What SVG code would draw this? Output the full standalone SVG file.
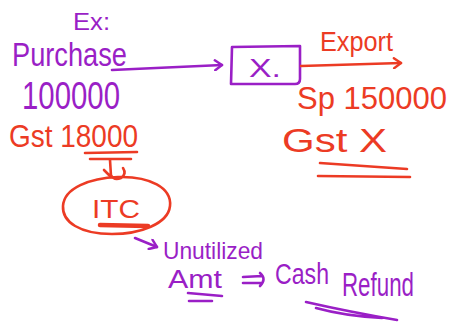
<svg xmlns="http://www.w3.org/2000/svg" width="453" height="323" viewBox="0 0 453 323">
<style>
.p{fill:#9a1fc6}
.r{fill:#ec3b24}
text{font-family:"Liberation Sans",Arial,sans-serif}
.ps{stroke:#9a1fc6;fill:none;stroke-width:2.6;stroke-linecap:round;stroke-linejoin:round}
.rs{stroke:#ec3b24;fill:none;stroke-width:2.6;stroke-linecap:round;stroke-linejoin:round}
</style>
<defs>
<marker id="ap" markerWidth="12" markerHeight="12" refX="9" refY="6" orient="auto" markerUnits="userSpaceOnUse"><path d="M2,1 L9,6 L2,11" fill="none" stroke="#9a1fc6" stroke-width="2.4" stroke-linecap="round" stroke-linejoin="round"/></marker>
<marker id="ar" markerWidth="12" markerHeight="12" refX="9" refY="6" orient="auto" markerUnits="userSpaceOnUse"><path d="M2,1 L9,6 L2,11" fill="none" stroke="#ec3b24" stroke-width="2.4" stroke-linecap="round" stroke-linejoin="round"/></marker>
</defs>
<rect width="453" height="323" fill="#fff"/>
<g id="purchase">
<text class="p" x="73" y="30" font-size="24" textLength="37" lengthAdjust="spacingAndGlyphs">Ex:</text>
<text class="p" x="12" y="66" font-size="34" textLength="115" lengthAdjust="spacingAndGlyphs">Purchase</text>
<text class="p" x="22" y="109" font-size="38" textLength="98" lengthAdjust="spacingAndGlyphs">100000</text>
<text class="r" x="9" y="147" font-size="32" textLength="129" lengthAdjust="spacingAndGlyphs">Gst 18000</text>
<path class="rs" d="M85,153 L137,152 M90,159 L131,159"/>
</g>
<g id="box-x">
<path class="ps" d="M232,47 L300,46 L300,79 Q300,84 295,84 L231,84 Z"/>
<text class="p" x="249" y="77" font-size="26" textLength="32" lengthAdjust="spacingAndGlyphs">X.</text>
</g>
<g id="export">
<text class="r" x="320" y="51" font-size="27" textLength="73" lengthAdjust="spacingAndGlyphs">Export</text>
<text class="r" x="297" y="109" font-size="31">Sp 150000</text>
<text class="r" x="282" y="152" font-size="33" textLength="105" lengthAdjust="spacingAndGlyphs">Gst X</text>
<path class="rs" d="M320,163 L407,169 M318,176 L410,177"/>
</g>
<g id="itc">
<path class="rs" d="M118,177 C150,176 172,188 170,206 C168,224 140,234 112,234 C80,234 62,222 63,206 C64,188 90,178 118,177 Z"/>
<text class="r" x="92" y="218" font-size="26" textLength="48" lengthAdjust="spacingAndGlyphs">ITC</text>
<path d="M100,225 L148,226" stroke="#ec3b24" stroke-width="4.5" stroke-linecap="round" fill="none"/>
</g>
<g id="unutilized">
<text class="p" x="163" y="259" font-size="24" textLength="100" lengthAdjust="spacingAndGlyphs">Unutilized</text>
<text class="p" x="168" y="288" font-size="26" textLength="54" lengthAdjust="spacingAndGlyphs">Amt</text>
<path class="ps" d="M188,293 L222,296 M189,301 L212,301"/>
</g>
<g id="cash-refund">
<text class="p" x="275" y="284" font-size="30" textLength="54" lengthAdjust="spacingAndGlyphs">Cash</text>
<text class="p" x="342" y="296" font-size="33" textLength="72" lengthAdjust="spacingAndGlyphs">Refund</text>
<path class="ps" d="M306,302 Q350,312 397,320 M316,308 Q345,316 382,318"/>
</g>
<g id="connectors">
<path class="ps" d="M112,70 L222,65" marker-end="url(#ap)"/>
<path class="rs" d="M301,66 L401,63" marker-end="url(#ar)"/>
<path class="rs" d="M110,160 L111,176 M104,170 L111,177 M111,175 Q114,181 121,178 Q127,174 123,168"/>
<path class="ps" d="M135,238 L157,247" marker-end="url(#ap)"/>
<path class="ps" d="M243,277 L262,276 M243,283 L262,283 M260,273 Q267,279 260,286"/>
</g>
</svg>
